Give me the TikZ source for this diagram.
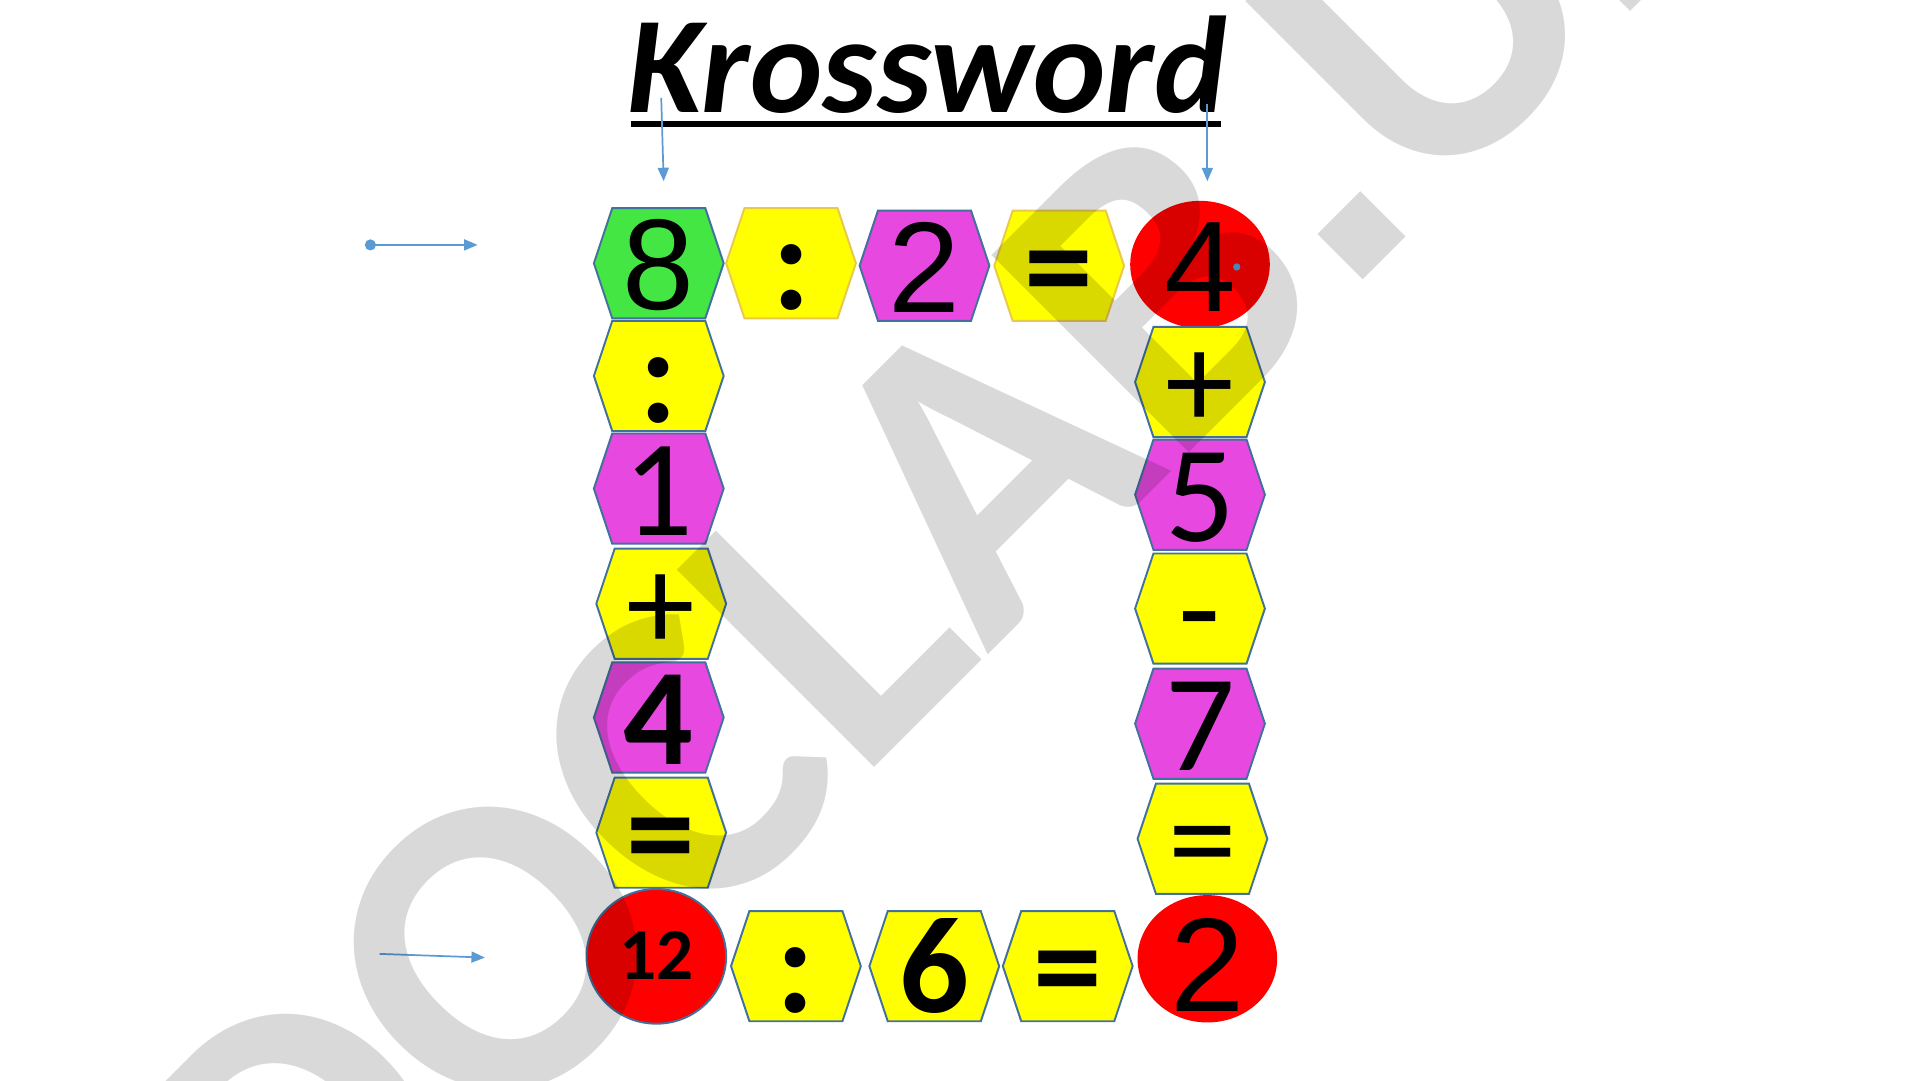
\documentclass[tikz,border=0pt]{standalone}
\usepackage{fontspec}
\setmainfont{Carlito}
\newfontfamily\arialf{Liberation Sans}
\usetikzlibrary{arrows.meta,shapes.geometric}
\definecolor{hexgreen}{HTML}{44E644}
\definecolor{hexyellow}{HTML}{FFFF00}
\definecolor{hexmag}{HTML}{E648E0}
\definecolor{hexred}{HTML}{FF0000}
\definecolor{edgeblue}{HTML}{41719C}
\definecolor{edgegold}{HTML}{E8C94A}
\definecolor{arrowblue}{HTML}{5B9BD5}
\newcommand\fA{\arialf\fontsize{30}{36}\selectfont}
\newcommand\fC{\fontsize{32}{38}\selectfont}
\newcommand\fCB{\bfseries\fontsize{32}{38}\selectfont}
% name, x, y, fill, draw, font, text
\newcommand\hexa[7]{%
  \path[fill=#4,draw=#5,line width=0.45pt,shift={(#2,#3)}]
    (-53,0) -- (-38,-45) -- (38,-45) -- (53,0) -- (38,45) -- (-38,45) -- cycle;
  \node[tiletext,font=#6] (#1) at (#2,#3+38) {#7};
}
\tikzset{
  tiletext/.style={anchor=base,inner sep=0pt,text=black},
  ptr/.style={draw=arrowblue,line width=0.4pt,-{Triangle[length=1.1mm,width=0.9mm]}},
  disc/.style={ellipse,inner sep=0pt,fill=hexred}
}
\begin{document}
\begin{tikzpicture}[x=0.1mm,y=-0.1mm]
\useasboundingbox (0,0) rectangle (1568,882);
\fill[white] (0,0) rectangle (1568,882);

% title
\node[anchor=base,inner sep=0pt,font=\bfseries\itshape\fontsize{32}{38}\selectfont] (title) at (757,92) {Krossword};
\draw[line width=0.5mm] (515,101) -- (997,101);

% arrows
\coordinate (t1s) at (540,80);
\coordinate (t1e) at (542,148);
\coordinate (t2s) at (986,85);
\coordinate (t2e) at (986,148);
\coordinate (l1s) at (298,200);
\coordinate (l1e) at (390,200);
\coordinate (l2s) at (310,779);
\coordinate (l2e) at (396,782);
\draw[ptr] (t1s) -- (t1e);
\draw[ptr] (t2s) -- (t2e);
\draw[ptr,{Circle[length=0.9mm]}-{Triangle[length=1.1mm,width=0.9mm]}] (l1s) -- (l1e);
\draw[ptr] (l2s) -- (l2e);

% top row
\hexa{h8}{538}{215}{hexgreen}{edgeblue}{\fA}{8}
\hexa{hdivA}{646}{215}{hexyellow}{edgegold}{\fCB}{:}
\hexa{h2}{755}{217}{hexmag}{edgeblue}{\fA}{2}
\hexa{heqA}{865}{217}{hexyellow}{edgegold}{\fCB}{=}
\node[disc,minimum width=11.4mm,minimum height=10.4mm] (c4) at (980,216) {};
\node[tiletext,font=\fA] (t4) at (980,254) {4};
\node[circle,fill=arrowblue,inner sep=0pt,minimum size=0.6mm] (dot) at (1010,218) {};

% left column
\hexa{hdivB}{538}{307}{hexyellow}{edgeblue}{\fCB}{:}
\hexa{h1}{538}{399}{hexmag}{edgeblue}{\fC}{1}
\hexa{hplA}{540}{493}{hexyellow}{edgeblue}{\fC}{+}
\hexa{h4}{538}{586}{hexmag}{edgeblue}{\fCB}{4}
\hexa{heqB}{540}{680}{hexyellow}{edgeblue}{\fCB}{=}
\node[disc,draw=edgeblue,line width=0.45pt,minimum width=11.4mm,minimum height=11mm] (c12) at (536,781) {};
\node[tiletext,font=\bfseries\fontsize{17}{20}\selectfont] (t12) at (536,800) {12};

% right column
\hexa{hplB}{980}{312}{hexyellow}{edgeblue}{\fC}{+}
\hexa{h5}{980}{404}{hexmag}{edgeblue}{\fC}{5}
\hexa{hmin}{980}{497}{hexyellow}{edgeblue}{\fC}{-}
\hexa{h7}{980}{591}{hexmag}{edgeblue}{\fC}{7}
\hexa{heqC}{982}{685}{hexyellow}{edgeblue}{\fC}{=}
\node[disc,minimum width=11.4mm,minimum height=10.4mm] (c2) at (986,783) {};
\node[tiletext,font=\arialf\fontsize{31}{36}\selectfont] (t2) at (986,826) {2};

% bottom row
\hexa{hdivC}{650}{789}{hexyellow}{edgeblue}{\fCB}{:}
\hexa{h6}{763}{789}{hexyellow}{edgeblue}{\fCB}{6}
\hexa{heqD}{872}{789}{hexyellow}{edgeblue}{\fCB}{=}

% watermark
\begin{scope}
\clip (0,0) rectangle (1568,882);
\node[rotate=45,inner sep=0pt,text opacity=0.15,text=black,font=\bfseries\fontsize{100}{110}\selectfont] (wm) at (765,415) {DOCLAB{\arialf\bfseries .}UZ};
\end{scope}
\end{tikzpicture}
\end{document}
